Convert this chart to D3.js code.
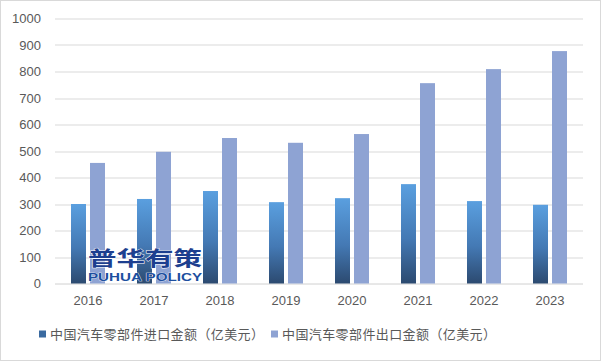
<!DOCTYPE html>
<html>
<head>
<meta charset="utf-8">
<script src="https://cdn.jsdelivr.net/npm/d3@7"></script>
<style>
  body { margin: 0; background: #fff; }
  text { font-family: "Noto Sans CJK SC", "Liberation Sans", sans-serif; }
</style>
</head>
<body>
<div class="canvas"></div>
<script>
// data
const years = ['2016', '2017', '2018', '2019', '2020', '2021', '2022', '2023'];
const importValues = [300, 319, 349, 307, 322, 375, 311, 297];
const exportValues = [455, 497, 549, 531, 564, 756, 809, 877];
const seriesNames = ['中国汽车零部件进口金额（亿美元）', '中国汽车零部件出口金额（亿美元）'];
const yTicks = [0, 100, 200, 300, 400, 500, 600, 700, 800, 900, 1000];

const width = 601, height = 361;
const margin = { top: 18.5, right: 18, bottom: 77.5, left: 55 };
const graphWidth = width - margin.left - margin.right;
const graphHeight = height - margin.top - margin.bottom;

const svg = d3.select('.canvas')
  .append('svg')
  .attr('width', width)
  .attr('height', height);

// outer border
svg.append('rect')
  .attr('x', 0.5).attr('y', 0.5)
  .attr('width', width - 1).attr('height', height - 1)
  .attr('fill', '#fff')
  .attr('stroke', '#d9d9d9');

const defs = svg.append('defs');
const grad = defs.append('linearGradient')
  .attr('id', 'importGrad')
  .attr('x1', 0).attr('y1', 0).attr('x2', 0).attr('y2', 1);
grad.append('stop').attr('offset', '0%').attr('stop-color', '#5a9fdf');
grad.append('stop').attr('offset', '55%').attr('stop-color', '#4479b4');
grad.append('stop').attr('offset', '100%').attr('stop-color', '#2c4a70');

const graph = svg.append('g')
  .attr('transform', `translate(${margin.left}, ${margin.top})`);

const x = d3.scaleBand().domain(years).range([0, graphWidth]);
const y = d3.scaleLinear().domain([0, 1000]).range([graphHeight, 0]);

// gridlines
graph.append('g')
  .selectAll('line')
  .data(yTicks)
  .enter()
  .append('line')
  .attr('x1', 0)
  .attr('x2', graphWidth)
  .attr('y1', d => Math.round(y(d)) + 0.5)
  .attr('y2', d => Math.round(y(d)) + 0.5)
  .attr('stroke', d => d === 0 ? '#d0d0d0' : '#d9d9d9')
  .attr('stroke-width', 1);

const yAxis = d3.axisLeft(y)
  .tickValues(yTicks)
  .tickFormat(d3.format('d'))
  .tickSize(0)
  .tickPadding(14);
const yAxisGroup = graph.append('g').call(yAxis);
yAxisGroup.select('.domain').remove();
yAxisGroup.selectAll('text')
  .attr('fill', '#595959')
  .style('font-size', '13px')
  .style('font-family', '"Liberation Sans", sans-serif');

const barWidth = 15, gap = 4;

graph.append('g')
  .selectAll('rect')
  .data(importValues)
  .enter()
  .append('rect')
  .attr('x', (d, i) => x(years[i]) + x.bandwidth() / 2 - gap / 2 - barWidth)
  .attr('y', d => y(d))
  .attr('width', barWidth)
  .attr('height', d => graphHeight - y(d))
  .attr('fill', 'url(#importGrad)');

graph.append('g')
  .selectAll('rect')
  .data(exportValues)
  .enter()
  .append('rect')
  .attr('x', (d, i) => x(years[i]) + x.bandwidth() / 2 + gap / 2)
  .attr('y', d => y(d))
  .attr('width', barWidth)
  .attr('height', d => graphHeight - y(d))
  .attr('fill', '#8ea3d3');

const xAxis = d3.axisBottom(x).tickSize(0).tickPadding(12);
const xAxisGroup = graph.append('g')
  .attr('transform', `translate(0, ${graphHeight})`)
  .call(xAxis);
xAxisGroup.select('.domain').remove();
xAxisGroup.selectAll('text')
  .attr('fill', '#595959')
  .style('font-size', '13px')
  .style('font-family', '"Liberation Sans", sans-serif');

// watermark over the first bars
const mark = svg.append('g');
mark.append('text')
  .attr('x', 88).attr('y', 266)
  .attr('textLength', 114)
  .attr('lengthAdjust', 'spacingAndGlyphs')
  .style('font-size', '20px')
  .style('font-weight', 'bold')
  .attr('fill', '#1d3f8f')
  .attr('stroke', '#fff').attr('stroke-width', 0.8)
  .attr('paint-order', 'stroke')
  .text('普华有策');
mark.append('text')
  .attr('x', 88).attr('y', 281)
  .attr('textLength', 114)
  .attr('lengthAdjust', 'spacingAndGlyphs')
  .style('font-size', '10.5px')
  .style('font-weight', 'bold')
  .style('font-family', '"Liberation Sans", sans-serif')
  .attr('fill', '#1d4f9f')
  .attr('stroke', '#fff').attr('stroke-width', 0.6)
  .attr('paint-order', 'stroke')
  .text('PUHUA POLICY');

// legend
const legendX = [39, 271];
const legend = svg.selectAll('.legend')
  .data(seriesNames)
  .enter()
  .append('g')
  .attr('class', 'legend')
  .attr('transform', (d, i) => `translate(${legendX[i]}, 334)`);

legend.append('rect')
  .attr('x', 0).attr('y', -3.5)
  .attr('width', 7).attr('height', 7)
  .attr('fill', (d, i) => i === 0 ? '#3a6aa0' : '#8ea3d3');

legend.append('text')
  .attr('x', 11)
  .attr('y', 0)
  .attr('dy', '0.35em')
  .attr('fill', '#595959')
  .style('font-size', '13px')
  .style('letter-spacing', '0.4px')
  .text(d => d);
</script>
</body>
</html>
